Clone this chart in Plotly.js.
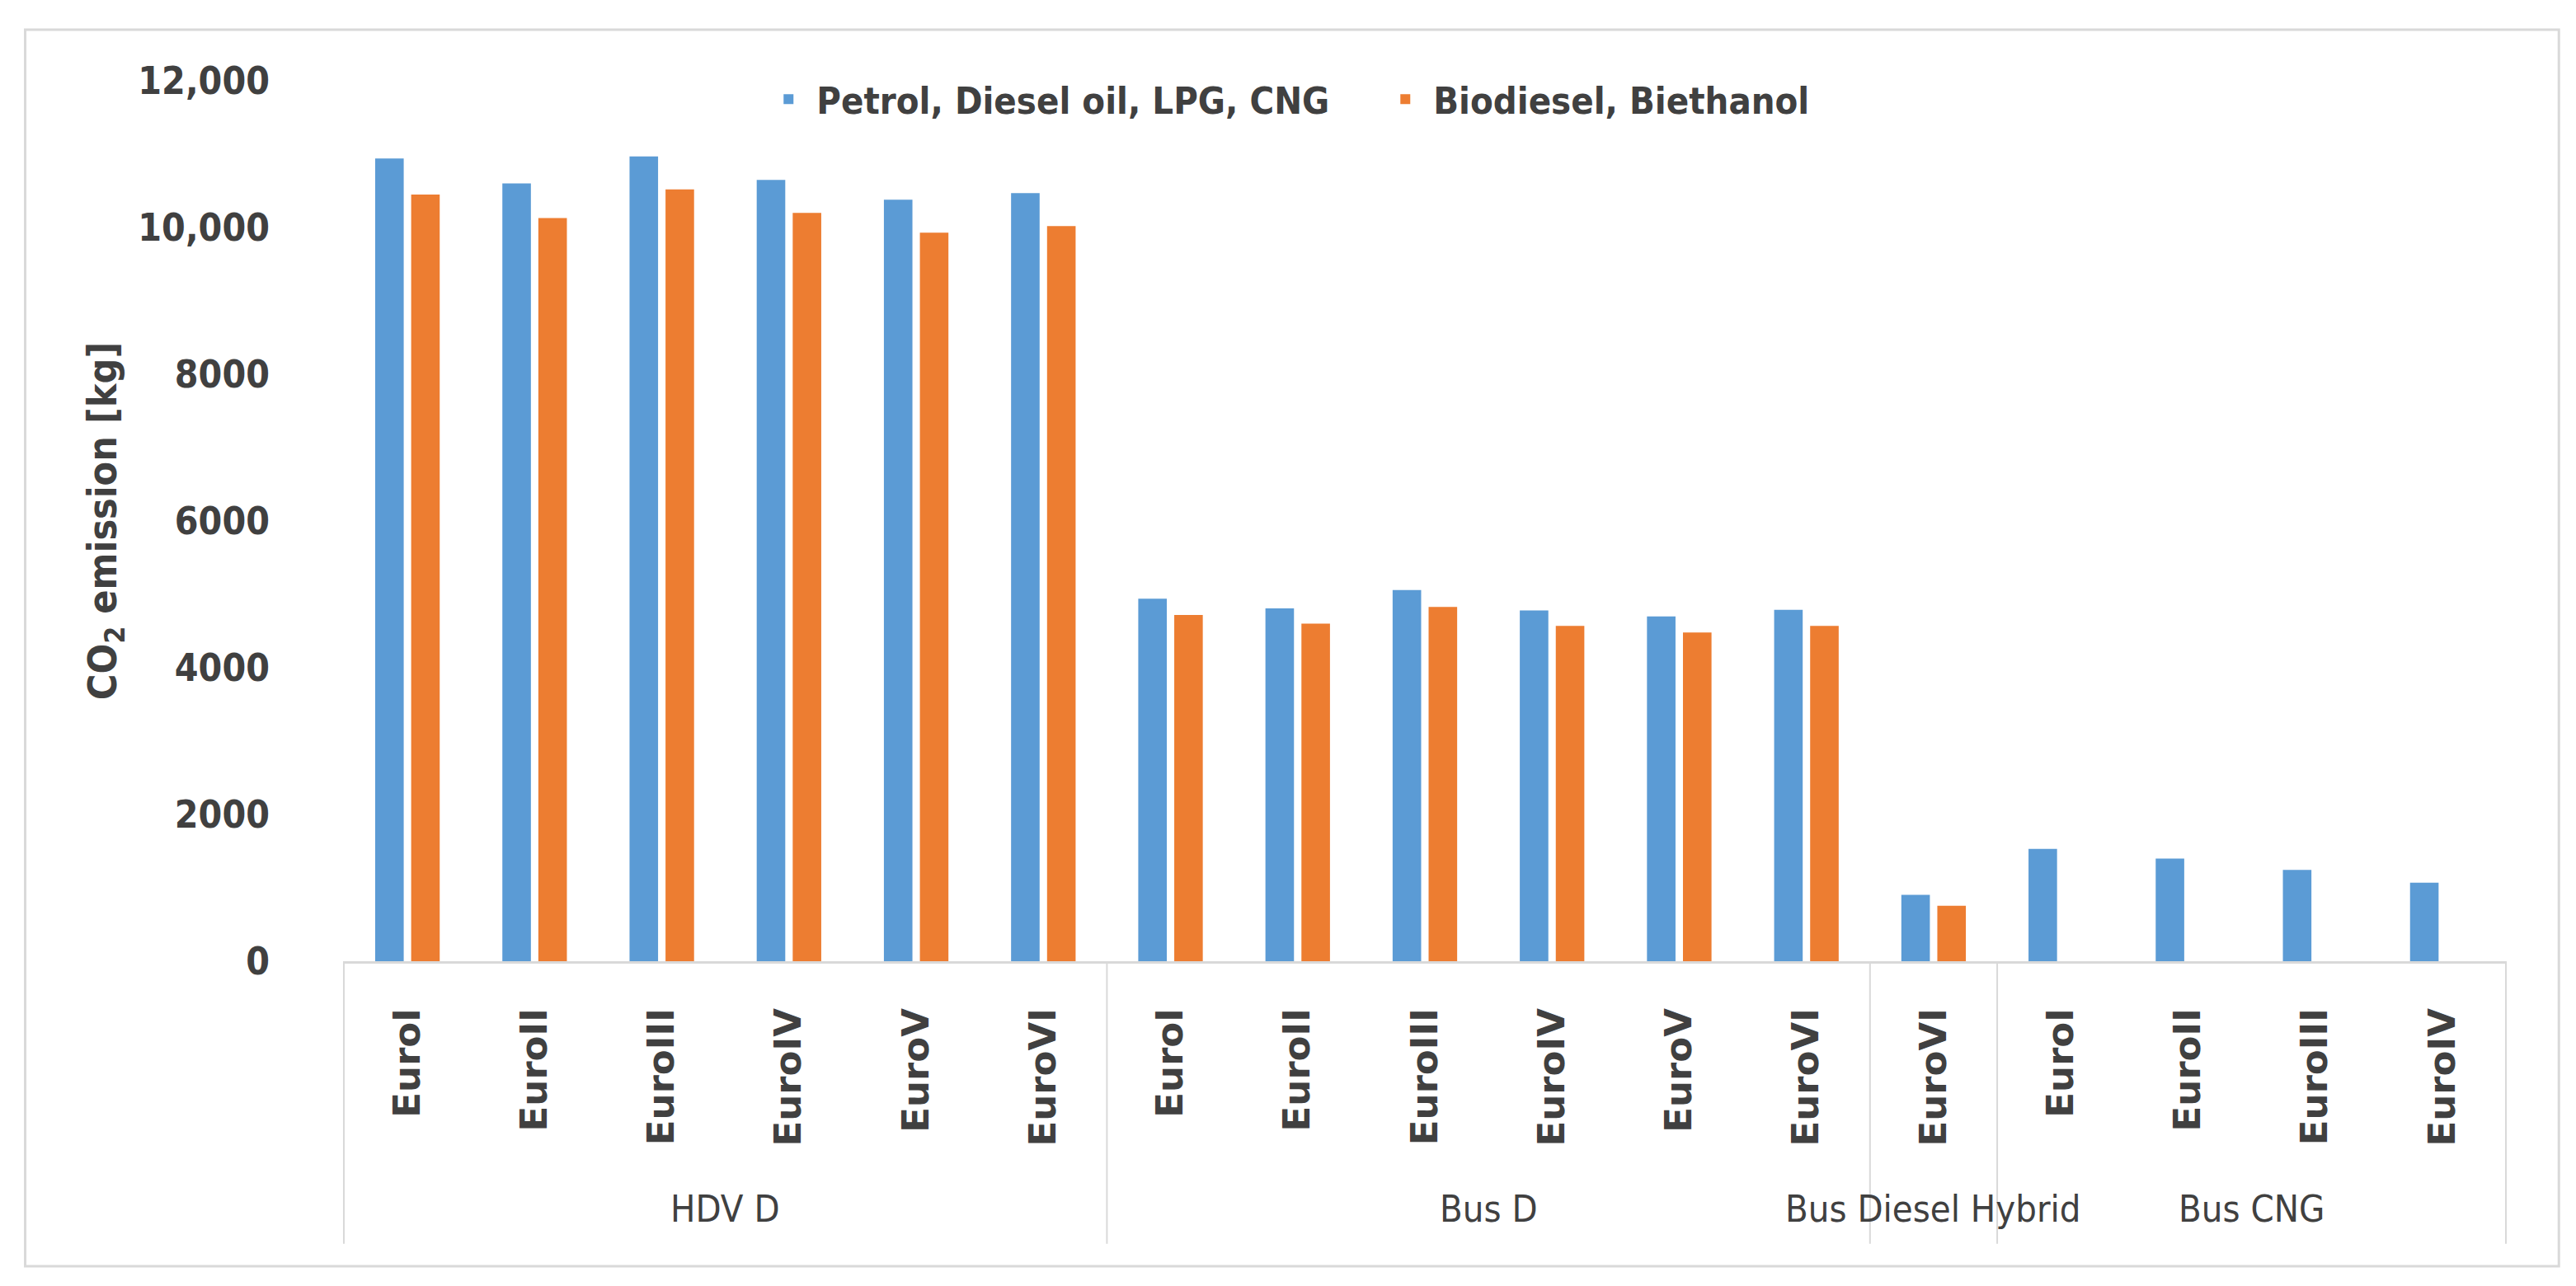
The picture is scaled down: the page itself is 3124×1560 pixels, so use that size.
<!DOCTYPE html>
<html>
<head>
<meta charset="utf-8">
<script src="https://cdn.plot.ly/plotly-3.0.1.min.js"></script>
<style>html,body{margin:0;padding:0;background:#fff;}#chart{width:3124px;height:1560px;}</style>
</head>
<body>
<div id="chart"></div>
<script>
// ---- data ----
const groups = ["HDV D", "Bus D", "Bus Diesel Hybrid", "Bus CNG"];
const groupStandards = [
  ["EuroI", "EuroII", "EuroIII", "EuroIV", "EuroV", "EuroVI"],
  ["EuroI", "EuroII", "EuroIII", "EuroIV", "EuroV", "EuroVI"],
  ["EuroVI"],
  ["EuroI", "EuroII", "EuroIII", "EuroIV"]
];
const fossilValues = [10940, 10600, 10970, 10650, 10380, 10470,
                      4940, 4810, 5060, 4780, 4700, 4790,
                      905,
                      1530, 1400, 1245, 1070];
const bioValues = [10450, 10130, 10520, 10200, 9930, 10020,
                   4720, 4600, 4830, 4570, 4480, 4570,
                   757,
                   null, null, null, null];
const seriesNames = ["Petrol, Diesel oil, LPG, CNG", "Biodiesel, Biethanol"];
const seriesColors = ["#5B9BD5", "#ED7D31"];
const yTickVals = [0, 2000, 4000, 6000, 8000, 10000, 12000];
const yTickText = ["0", "2000", "4000", "6000", "8000", "10,000", "12,000"];
const yTitle = "CO<sub>2</sub> emission [kg]";

// ---- build categories ----
const catKeys = [], catLabels = [];
groups.forEach((g, gi) => groupStandards[gi].forEach(s => { catKeys.push(g + "|" + s); catLabels.push(s); }));

const narrow = "'Liberation Sans Narrow', 'DejaVu Sans Condensed', 'Roboto Condensed', Roboto, sans-serif";
const wide = "'DejaVu Sans', Verdana, sans-serif";
const txt = "#404040";
const lineCol = "#d9d9d9";

const traces = [
  {type: "bar", name: seriesNames[0], x: catKeys, y: fossilValues, marker: {color: seriesColors[0]}},
  {type: "bar", name: seriesNames[1], x: catKeys, y: bioValues, marker: {color: seriesColors[1]}}
];

// group dividers & labels derived from group sizes
const shapes = [], annotations = [];
const divBottom = -0.321;
let start = 0;
shapes.push({type: "line", xref: "x", yref: "paper", x0: -0.5, x1: -0.5, y0: 0, y1: divBottom, line: {color: lineCol, width: 2}});
groups.forEach((g, gi) => {
  const n = groupStandards[gi].length;
  const end = start + n - 1;
  shapes.push({type: "line", xref: "x", yref: "paper", x0: end + 0.5, x1: end + 0.5, y0: 0, y1: divBottom, line: {color: lineCol, width: 2}});
  annotations.push({xref: "x", yref: "paper", x: (start + end) / 2, y: -0.281, text: g, showarrow: false,
    xanchor: "center", yanchor: "middle", font: {family: narrow, size: 45, color: txt}});
  start += n;
});
// outer chart frame
shapes.push({type: "rect", xref: "paper", yref: "paper", x0: -0.1469, x1: 1.0241, y0: -0.3464, y1: 1.058,
  line: {color: lineCol, width: 3}, fillcolor: "rgba(0,0,0,0)", layer: "below"});

const layout = {
  width: 3124, height: 1560,
  margin: {l: 416, r: 84, t: 98, b: 394},
  paper_bgcolor: "#fff", plot_bgcolor: "#fff",
  barmode: "group", bargap: 0.434, bargroupgap: 0.207,
  showlegend: true,
  legend: {orientation: "h", x: 0.478, xanchor: "center", y: 0.979, yanchor: "middle",
    entrywidth: 675, entrywidthmode: "pixels", itemwidth: 58,
    font: {family: narrow, size: 45, color: txt, weight: "bold"}, bgcolor: "rgba(0,0,0,0)"},
  xaxis: {type: "category", tickvals: catKeys, ticktext: catLabels, tickangle: -90,
    tickfont: {family: wide, size: 45, color: txt, weight: "bold"},
    showline: true, linecolor: lineCol, linewidth: 3, ticks: "", showgrid: false, zeroline: false,
    ticklabelstandoff: 36, automargin: false, fixedrange: true},
  yaxis: {range: [0, 12000], tickvals: yTickVals, ticktext: yTickText,
    tickfont: {family: narrow, size: 46, color: txt, weight: "bold"},
    showgrid: false, zeroline: false, showline: false, ticks: "", ticklabelstandoff: 88,
    title: {text: yTitle, font: {family: narrow, size: 48, color: txt, weight: "bold"}, standoff: 10},
    automargin: false, fixedrange: true},
  shapes: shapes,
  annotations: annotations
};

Plotly.newPlot("chart", traces, layout, {displayModeBar: false, staticPlot: true});
</script>
</body>
</html>
